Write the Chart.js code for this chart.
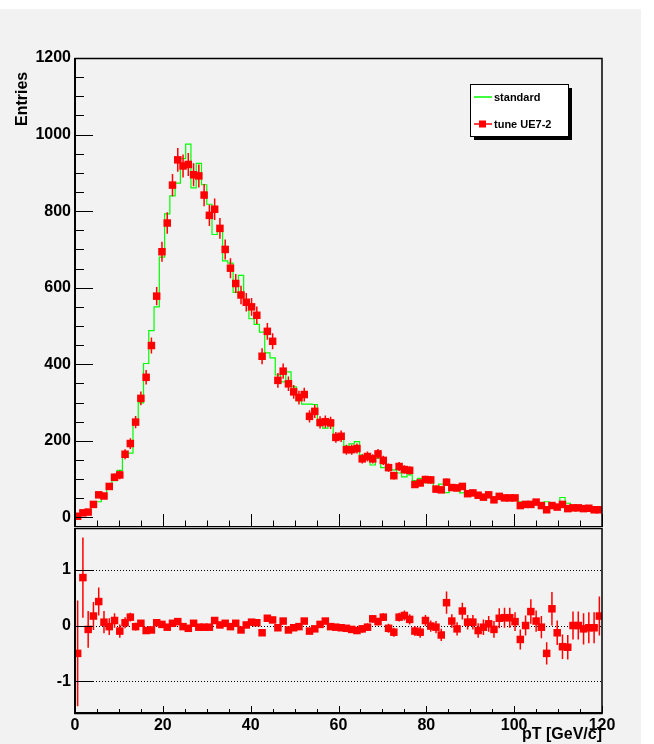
<!DOCTYPE html>
<html>
<head>
<meta charset="utf-8">
<script src="https://cdn.jsdelivr.net/npm/chart.js@4"></script>
<style>
  html, body { margin: 0; padding: 0; background: #ffffff; }
  #wrap { position: relative; width: 654px; height: 744px; }
  #wrap canvas { position: absolute; left: 0; }
  #top { top: 0; }
  #bottom { top: 527px; }
</style>
</head>
<body>
<div id="wrap">
  <canvas id="top" width="654" height="527"></canvas>
  <canvas id="bottom" width="654" height="217"></canvas>
</div>
<script>
// pT binning: 100 bins from 0 to 120 GeV/c
var binEdges = [0, 1.2, 2.4, 3.6, 4.8, 6, 7.2, 8.4, 9.6, 10.8, 12, 13.2, 14.4, 15.6, 16.8, 18, 19.2, 20.4, 21.6, 22.8,
  24, 25.2, 26.4, 27.6, 28.8, 30, 31.2, 32.4, 33.6, 34.8, 36, 37.2, 38.4, 39.6, 40.8, 42, 43.2, 44.4, 45.6, 46.8,
  48, 49.2, 50.4, 51.6, 52.8, 54, 55.2, 56.4, 57.6, 58.8, 60, 61.2, 62.4, 63.6, 64.8, 66, 67.2, 68.4, 69.6, 70.8,
  72, 73.2, 74.4, 75.6, 76.8, 78, 79.2, 80.4, 81.6, 82.8, 84, 85.2, 86.4, 87.6, 88.8, 90, 91.2, 92.4, 93.6, 94.8,
  96, 97.2, 98.4, 99.6, 100.8, 102, 103.2, 104.4, 105.6, 106.8, 108, 109.2, 110.4, 111.6, 112.8, 114, 115.2, 116.4,
  117.6, 118.8, 120];

// "standard" histogram contents
var standard = [6, 6.5, 15, 29, 41, 53, 83, 96, 123, 157,
  168, 254, 299, 402, 488, 550, 680, 793, 840, 873,
  937, 975, 861, 925, 869, 818, 739, 748, 670, 664,
  588, 632, 556, 519, 504, 484, 430, 417, 372, 354,
  380, 341, 305, 296, 296, 295, 240, 233, 245, 208,
  219, 186, 192, 198, 163, 164, 137, 155, 130, 137,
  124, 116, 106, 111, 96, 102, 91, 99, 80, 87,
  65, 72, 82, 64, 58, 60, 64, 55, 57, 49,
  49, 45, 45, 48, 41, 34, 27, 37, 32, 41,
  24, 31, 52, 37, 25, 25, 24, 25, 21, 17];

// "tune UE7-2" entries and their errors
var tune = [3, 12, 14, 34, 59, 56, 81, 105, 111, 165,
  193, 249, 311, 366, 449, 578, 694, 769, 868, 934,
  918, 922, 895, 892, 842, 789, 805, 755, 700, 651,
  611, 581, 562, 550, 528, 421, 486, 460, 358, 382,
  349, 328, 313, 321, 264, 277, 248, 250, 247, 209,
  212, 177, 177, 180, 153, 159, 153, 166, 149, 130,
  109, 133, 125, 123, 86, 90, 99, 98, 74, 72,
  92, 78, 77, 81, 62, 64, 58, 53, 59, 46,
  55, 51, 51, 51, 31, 34, 34, 40, 31, 20,
  31, 27, 34, 23, 25, 25, 23, 24, 20, 20];
var tuneErr = [2, 3, 4, 6, 8, 7, 9, 10, 11, 13,
  14, 16, 18, 19, 21, 24, 26, 28, 29, 31,
  30, 30, 30, 30, 29, 28, 28, 27, 26, 26,
  25, 24, 24, 23, 23, 21, 22, 21, 19, 20,
  19, 18, 18, 18, 16, 17, 16, 16, 16, 14,
  15, 13, 13, 13, 12, 13, 12, 13, 12, 11,
  10, 12, 11, 11, 9, 9, 10, 10, 9, 8,
  10, 9, 9, 9, 8, 8, 8, 7, 8, 7,
  7, 7, 7, 7, 6, 6, 6, 6, 6, 4,
  6, 5, 6, 5, 5, 5, 5, 5, 4, 4];

// relative difference tune/standard - 1, with errors
var relDiff = [-0.50, 0.86, -0.07, 0.17, 0.43, 0.06, -0.02, 0.09, -0.10, 0.05,
  0.15, -0.02, 0.04, -0.09, -0.08, 0.05, 0.02, -0.03, 0.04, 0.07,
  -0.02, -0.05, 0.04, -0.03, -0.03, -0.03, 0.09, 0.01, 0.04, -0.02,
  0.04, -0.08, 0.01, 0.06, 0.05, -0.13, 0.13, 0.10, -0.04, 0.08,
  -0.08, -0.04, -0.02, 0.08, -0.10, -0.06, 0.02, 0.08, -0.02, -0.03,
  -0.04, -0.05, -0.07, -0.09, -0.06, -0.03, 0.12, 0.07, 0.15, -0.05,
  -0.12, 0.15, 0.18, 0.11, -0.10, -0.12, 0.09, -0.01, -0.03, -0.17,
  0.41, 0.08, -0.06, 0.26, 0.06, 0.06, -0.09, -0.03, 0.03, -0.07,
  0.13, 0.14, 0.14, 0.07, -0.25, 0.00, 0.25, 0.08, -0.03, -0.50,
  0.30, -0.13, -0.38, -0.39, 0.00, 0.00, -0.06, -0.04, -0.04, 0.17];
var relDiffErr = [0.95, 0.72, 0.33, 0.25, 0.25, 0.20, 0.15, 0.13, 0.12, 0.10,
  0.08, 0.07, 0.06, 0.05, 0.05, 0.04, 0.04, 0.04, 0.03, 0.03,
  0.03, 0.03, 0.03, 0.03, 0.03, 0.03, 0.03, 0.03, 0.03, 0.03,
  0.04, 0.04, 0.04, 0.04, 0.04, 0.04, 0.04, 0.04, 0.04, 0.04,
  0.05, 0.05, 0.05, 0.05, 0.05, 0.05, 0.05, 0.05, 0.05, 0.05,
  0.06, 0.06, 0.06, 0.06, 0.07, 0.07, 0.07, 0.07, 0.07, 0.08,
  0.08, 0.08, 0.09, 0.09, 0.09, 0.10, 0.10, 0.10, 0.11, 0.11,
  0.20, 0.12, 0.12, 0.15, 0.13, 0.13, 0.13, 0.14, 0.14, 0.15,
  0.18, 0.18, 0.18, 0.17, 0.18, 0.18, 0.22, 0.19, 0.20, 0.20,
  0.30, 0.22, 0.22, 0.22, 0.25, 0.25, 0.28, 0.28, 0.28, 0.35];

var xTickLabels = [0, 20, 40, 60, 80, 100, 120];
var yTicksTop = [0, 200, 400, 600, 800, 1000, 1200];
var yTicksBottom = [-1, 0, 1];
var refLevels = [-1, 0, 1];

var FONT = '"Liberation Sans", Arial, Helvetica, sans-serif';
var PAD = '#f2f2f2';

// histogram as a step line through the left bin edges (plus the last right edge)
var stepPts = binEdges.map(function (e, i) {
  return { x: e, y: standard[Math.min(i, standard.length - 1)] };
});
var centers = binEdges.slice(0, -1).map(function (e, i) { return (e + binEdges[i + 1]) / 2; });
var tunePts = centers.map(function (c, i) { return { x: c, y: tune[i] }; });
var diffPts = centers.map(function (c, i) { return { x: c, y: relDiff[i] }; });

// ---- plugins ----
var padFill = {
  id: 'padFill',
  beforeDraw: function (chart, args, o) {
    var ctx = chart.ctx;
    ctx.save();
    ctx.fillStyle = '#ffffff';
    ctx.fillRect(0, 0, chart.width, chart.height);
    ctx.fillStyle = PAD;
    ctx.fillRect(o.x0, o.y0, o.x1 - o.x0, o.y1 - o.y0);
    ctx.restore();
  }
};

// dotted horizontal guide lines
var guides = {
  id: 'guides',
  beforeDatasetsDraw: function (chart, args, o) {
    if (!o.levels) return;
    var ctx = chart.ctx, a = chart.chartArea, y = chart.scales.y;
    ctx.save();
    ctx.strokeStyle = '#000';
    ctx.lineWidth = 1;
    ctx.setLineDash([1, 2]);
    o.levels.forEach(function (v) {
      var py = Math.round(y.getPixelForValue(v)) + 0.5;
      ctx.beginPath();
      ctx.moveTo(a.left, py);
      ctx.lineTo(a.right, py);
      ctx.stroke();
    });
    ctx.restore();
  }
};

// vertical error bars under the markers
var errBars = {
  id: 'errBars',
  beforeDatasetDraw: function (chart, args, o) {
    if (args.index !== o.dataset) return;
    var ctx = chart.ctx, a = chart.chartArea, x = chart.scales.x, y = chart.scales.y;
    var pts = chart.data.datasets[o.dataset].data;
    ctx.save();
    ctx.beginPath();
    ctx.rect(a.left, a.top, a.width, a.height);
    ctx.clip();
    ctx.strokeStyle = '#ff0000';
    ctx.lineWidth = 1.5;
    ctx.beginPath();
    pts.forEach(function (p, i) {
      var px = x.getPixelForValue(p.x);
      ctx.moveTo(px, y.getPixelForValue(p.y - o.errors[i]));
      ctx.lineTo(px, y.getPixelForValue(p.y + o.errors[i]));
    });
    ctx.stroke();
    ctx.restore();
  }
};

// frame and inward tick marks
var frame = {
  id: 'frame',
  afterDatasetsDraw: function (chart, args, o) {
    var ctx = chart.ctx, a = chart.chartArea, x = chart.scales.x, y = chart.scales.y;
    ctx.save();
    ctx.strokeStyle = '#000';
    ctx.lineWidth = 1;
    ctx.beginPath();
    var v, px, py, major;
    for (v = x.min; v <= x.max + 1e-6; v += o.xMinor) {
      px = Math.round(x.getPixelForValue(v)) + 0.5;
      major = Math.abs(v / o.xMajor - Math.round(v / o.xMajor)) < 1e-6;
      ctx.moveTo(px, a.bottom);
      ctx.lineTo(px, a.bottom - (major ? o.xMajorLen : o.xMinorLen));
    }
    for (v = Math.ceil(y.min / o.yMinor) * o.yMinor; v <= y.max + 1e-6; v += o.yMinor) {
      py = Math.round(y.getPixelForValue(v)) + 0.5;
      major = Math.abs(v / o.yMajor - Math.round(v / o.yMajor)) < 1e-6;
      ctx.moveTo(a.left, py);
      ctx.lineTo(a.left + (major ? o.yMajorLen : o.yMinorLen), py);
    }
    ctx.stroke();
    ctx.lineWidth = 1.5;
    ctx.strokeRect(a.left, a.top + 0.5, a.width, a.height);
    ctx.lineWidth = 2;
    ctx.beginPath();
    ctx.moveTo(a.left, a.top);
    ctx.lineTo(a.left, a.bottom);
    ctx.lineTo(a.right, a.bottom);
    ctx.stroke();
    ctx.restore();
  }
};

// ROOT-style legend box with shadow
var boxLegend = {
  id: 'boxLegend',
  afterDraw: function (chart, args, o) {
    if (!o.box) return;
    var ctx = chart.ctx, b = o.box, ds = chart.data.datasets;
    ctx.save();
    ctx.fillStyle = '#000';
    ctx.fillRect(b.x + 4, b.y + 4, b.w, b.h);
    ctx.fillStyle = '#ffffff';
    ctx.fillRect(b.x, b.y, b.w, b.h);
    ctx.strokeStyle = '#000';
    ctx.lineWidth = 1;
    ctx.strokeRect(b.x + 0.5, b.y + 0.5, b.w, b.h);
    ctx.font = 'bold 11px ' + FONT;
    ctx.textBaseline = 'middle';
    ctx.fillStyle = '#000';
    o.order.forEach(function (di, row) {
      var d = ds[di];
      var cy = b.y + 13 + row * 27;
      ctx.strokeStyle = d.borderColor;
      ctx.lineWidth = 1.5;
      ctx.beginPath();
      ctx.moveTo(b.x + 4, cy);
      ctx.lineTo(b.x + 22, cy);
      ctx.stroke();
      if (d.pointRadius > 0) {
        ctx.fillStyle = d.backgroundColor;
        ctx.fillRect(b.x + 9, cy - 3.5, 7, 7);
      }
      ctx.fillStyle = '#000';
      ctx.fillText(d.label, b.x + 24, cy + 1);
    });
    ctx.restore();
  }
};

// axis titles
var axisTitles = {
  id: 'axisTitles',
  afterDraw: function (chart, args, o) {
    var ctx = chart.ctx;
    ctx.save();
    ctx.fillStyle = '#000';
    ctx.font = 'bold 16px ' + FONT;
    if (o.yTitle) {
      ctx.translate(o.yTitle.x, o.yTitle.y);
      ctx.rotate(-Math.PI / 2);
      ctx.textAlign = 'left';
      ctx.fillText(o.yTitle.text, 0, 0);
      ctx.setTransform(1, 0, 0, 1, 0, 0);
    }
    if (o.xTitle) {
      ctx.textAlign = 'right';
      ctx.fillText(o.xTitle.text, o.xTitle.x, o.xTitle.y);
    }
    ctx.restore();
  }
};

Chart.register(padFill, guides, errBars, frame, boxLegend, axisTitles);

function fixedTicks(list) {
  return function (scale) {
    scale.ticks = list.map(function (v) { return { value: v }; });
  };
}

// fixed axis box, no extra label padding around the plot area
function fixedWidth(w) {
  return function (s) {
    s.width = w;
    s.paddingTop = 0; s.paddingBottom = 0; s.paddingLeft = 0; s.paddingRight = 0;
  };
}
function fixedHeight(h) {
  return function (s) {
    s.height = h;
    s.paddingTop = 0; s.paddingBottom = 0; s.paddingLeft = 0; s.paddingRight = 0;
  };
}

var tickFont = { family: FONT, size: 16, weight: 'bold' };
function plainLabel(v) { return String(v); }

// ---- upper pad: spectra ----
new Chart(document.getElementById('top'), {
  data: {
    datasets: [
      {
        type: 'scatter', label: 'tune UE7-2', data: tunePts,
        pointStyle: 'rect', pointRadius: 5.3, pointHoverRadius: 5.3,
        backgroundColor: '#ff0000', borderColor: '#ff0000', borderWidth: 0, order: 0
      },
      {
        type: 'line', label: 'standard', data: stepPts, stepped: 'before',
        borderColor: '#00ff00', backgroundColor: '#00ff00', borderWidth: 1.2,
        pointRadius: 0, fill: false, order: 1
      }
    ]
  },
  options: {
    responsive: false, animation: false, devicePixelRatio: 1,
    layout: { autoPadding: false, padding: { top: 58, right: 52, left: 0, bottom: 0 } },
    scales: {
      x: { type: 'linear', min: 0, max: 120, display: false },
      y: {
        type: 'linear', min: -25, max: 1200,
        afterBuildTicks: fixedTicks(yTicksTop),
        afterFit: fixedWidth(75),
        grid: { display: false, drawTicks: false },
        border: { display: false },
        ticks: { color: '#000', font: tickFont, padding: 4, callback: plainLabel }
      }
    },
    plugins: {
      legend: { display: false },
      tooltip: { enabled: false },
      padFill: { x0: 0, y0: 9, x1: 641, y1: 527 },
      errBars: { dataset: 0, errors: tuneErr },
      frame: { xMinor: 5, xMajor: 20, xMinorLen: 6.5, xMajorLen: 13, yMinor: 50, yMajor: 200, yMinorLen: 9, yMajorLen: 18 },
      boxLegend: { box: { x: 470, y: 84, w: 98, h: 52 }, order: [1, 0] },
      axisTitles: { yTitle: { text: 'Entries', x: 27, y: 126 } }
    }
  }
});

// ---- lower pad: relative difference ----
new Chart(document.getElementById('bottom'), {
  data: {
    datasets: [
      {
        type: 'scatter', label: 'tune UE7-2', data: diffPts,
        pointStyle: 'rect', pointRadius: 5.3, pointHoverRadius: 5.3,
        backgroundColor: '#ff0000', borderColor: '#ff0000', borderWidth: 0
      }
    ]
  },
  options: {
    responsive: false, animation: false, devicePixelRatio: 1,
    layout: { autoPadding: false, padding: { top: 1, right: 52, left: 0, bottom: 0 } },
    scales: {
      x: {
        type: 'linear', min: 0, max: 120,
        afterBuildTicks: fixedTicks(xTickLabels),
        afterFit: fixedHeight(31),
        grid: { display: false, drawTicks: false },
        border: { display: false },
        ticks: { color: '#000', font: tickFont, padding: 3, autoSkip: false, maxRotation: 0, callback: plainLabel }
      },
      y: {
        type: 'linear', min: -1.57, max: 1.75,
        afterBuildTicks: fixedTicks(yTicksBottom),
        afterFit: fixedWidth(75),
        grid: { display: false, drawTicks: false },
        border: { display: false },
        ticks: { color: '#000', font: tickFont, padding: 4, callback: plainLabel }
      }
    },
    plugins: {
      legend: { display: false },
      tooltip: { enabled: false },
      padFill: { x0: 0, y0: 0, x1: 641, y1: 217 },
      guides: { levels: refLevels },
      errBars: { dataset: 0, errors: relDiffErr },
      frame: { xMinor: 5, xMajor: 20, xMinorLen: 4, xMajorLen: 7, yMinor: 1, yMajor: 1, yMinorLen: 18, yMajorLen: 18 },
      axisTitles: { xTitle: { text: 'pT [GeV/c]', x: 602, y: 212 } }
    }
  }
});
</script>
</body>
</html>
